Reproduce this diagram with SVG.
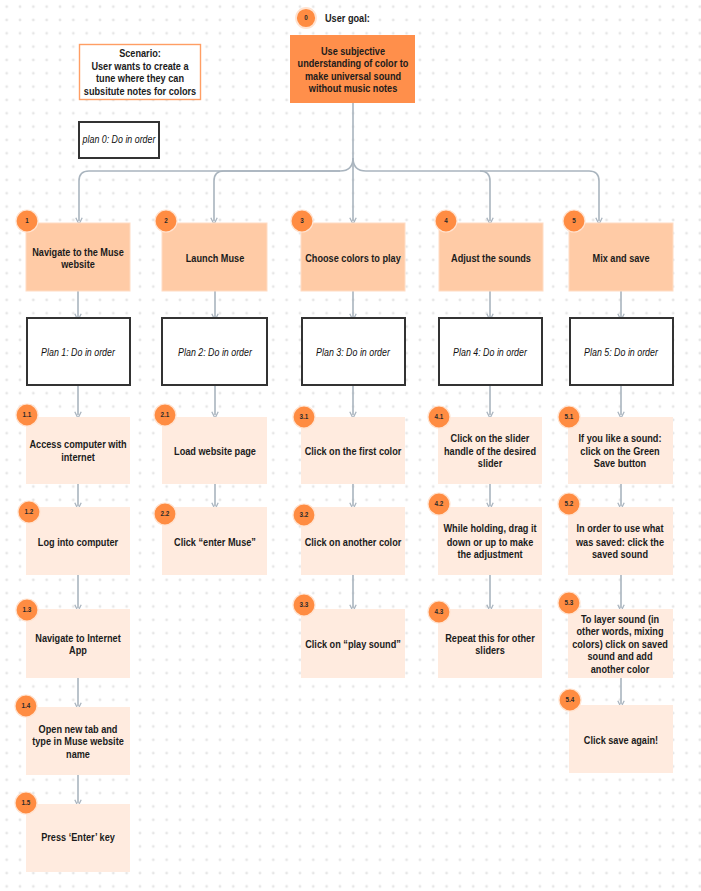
<svg xmlns="http://www.w3.org/2000/svg" width="701" height="891" viewBox="0 0 701 891">
<defs>
<pattern id="dots" x="0" y="0" width="13.33" height="13.33" patternUnits="userSpaceOnUse">
<circle cx="6.67" cy="6.67" r="1.4" fill="#e6e6e6"/>
</pattern>
<marker id="arrd" viewBox="0 0 10 10" refX="5" refY="5" markerWidth="8" markerHeight="8" markerUnits="userSpaceOnUse" orient="auto">
<path d="M1,1 L9,5 L1,9" fill="none" stroke="#a9b4be" stroke-width="1.6"/>
</marker>
</defs>
<style>
.t{font-family:"Liberation Sans",Arial,sans-serif;font-weight:bold;font-size:10.3px;fill:#1b1b1b;text-anchor:middle}
.p{font-family:"Liberation Sans",Arial,sans-serif;font-style:italic;font-size:10.3px;fill:#111111;text-anchor:middle}
.n{font-family:"Liberation Sans",Arial,sans-serif;font-weight:bold;font-size:6.3px;fill:#2a2a2a;text-anchor:middle}
.b1{fill:#ffcba6;stroke:#ffdcc4;stroke-width:1}
.b2{fill:#ffebdf}
.pl{fill:#ffffff;stroke:#333333;stroke-width:2}
.c{fill:#ff8c42;stroke:#ffe3d1;stroke-width:1.2}
.con path{fill:none;stroke:#a9b4be;stroke-width:1.6}
</style>
<rect width="701" height="891" fill="#ffffff"/>
<rect width="701" height="891" fill="url(#dots)"/>

<g id="connectors" class="con">
<path d="M353,103 V221" marker-end="url(#arrd)"/>
<path d="M353,158 Q353,171 340,171 H89 Q79,171 79,181 V221" marker-end="url(#arrd)"/>
<path d="M340,171 H224 Q214,171 214,181 V221" marker-end="url(#arrd)"/>
<path d="M353,158 Q353,171 366,171 H480 Q490,171 490,181 V221" marker-end="url(#arrd)"/>
<path d="M480,171 H589 Q599,171 599,181 V221" marker-end="url(#arrd)"/>
<path d="M78,291 V317" marker-end="url(#arrd)"/>
<path d="M215,291 V317" marker-end="url(#arrd)"/>
<path d="M353,291 V317" marker-end="url(#arrd)"/>
<path d="M490,291 V317" marker-end="url(#arrd)"/>
<path d="M621,291 V317" marker-end="url(#arrd)"/>
<path d="M78,385 V415" marker-end="url(#arrd)"/>
<path d="M215,385 V415" marker-end="url(#arrd)"/>
<path d="M353,385 V415" marker-end="url(#arrd)"/>
<path d="M490,385 V415" marker-end="url(#arrd)"/>
<path d="M621,385 V415" marker-end="url(#arrd)"/>
<path d="M78,484 V506" marker-end="url(#arrd)"/>
<path d="M215,484 V506" marker-end="url(#arrd)"/>
<path d="M353,484 V506" marker-end="url(#arrd)"/>
<path d="M490,484 V506" marker-end="url(#arrd)"/>
<path d="M621,484 V506" marker-end="url(#arrd)"/>
<path d="M78,575 V608" marker-end="url(#arrd)"/>
<path d="M353,575 V608" marker-end="url(#arrd)"/>
<path d="M490,575 V608" marker-end="url(#arrd)"/>
<path d="M621,575 V608" marker-end="url(#arrd)"/>
<path d="M78,678 V706" marker-end="url(#arrd)"/>
<path d="M621,678 V704" marker-end="url(#arrd)"/>
<path d="M78,775 V803" marker-end="url(#arrd)"/>
</g>

<g id="goal">
<circle class="c" cx="306" cy="18" r="10" style="stroke-width:1.8"/>
<text class="n" x="306" y="20.3">0</text>
<g transform="translate(325,0) scale(0.89,1)"><text class="t" y="22" style="text-anchor:start">User goal:</text></g>
<rect x="290" y="35" width="125" height="68" fill="#ff8f4b"/>
<g transform="translate(353,0) scale(0.89,1)">
<text class="t" y="55">Use subjective</text>
<text class="t" y="67">understanding of color to</text>
<text class="t" y="80">make universal sound</text>
<text class="t" y="92">without music notes</text>
</g>
</g>

<g id="scenario">
<rect x="79.5" y="44.5" width="121" height="55" fill="#ffffff" stroke="#ff9e64" stroke-width="1.4"/>
<g transform="translate(140,0) scale(0.89,1)">
<text class="t" y="57">Scenario:</text>
<text class="t" y="70">User wants to create a</text>
<text class="t" y="82">tune where they can</text>
<text class="t" y="95">subsitute notes for colors</text>
</g>
</g>

<g id="plan0">
<rect class="pl" x="79" y="122" width="80" height="36"/>
<g transform="translate(119,0) scale(0.86,1)"><text class="p" y="143">plan 0: Do in order</text></g>
</g>

<g id="n1">
<rect class="b1" x="26" y="223" width="104" height="68"/>
<circle class="c" cx="27" cy="221" r="11"/>
<text class="n" x="27" y="223.3">1</text>
<g transform="translate(78,0) scale(0.89,1)">
<text class="t" y="256">Navigate to the Muse</text>
<text class="t" y="268">website</text>
</g>
</g>
<g id="n2">
<rect class="b1" x="162" y="223" width="105" height="68"/>
<circle class="c" cx="166" cy="221" r="11"/>
<text class="n" x="166" y="223.3">2</text>
<g transform="translate(215,0) scale(0.89,1)"><text class="t" y="262">Launch Muse</text></g>
</g>
<g id="n3">
<rect class="b1" x="301" y="223" width="104" height="68"/>
<circle class="c" cx="302" cy="221" r="11"/>
<text class="n" x="302" y="223.3">3</text>
<g transform="translate(353,0) scale(0.89,1)"><text class="t" y="262">Choose colors to play</text></g>
</g>
<g id="n4">
<rect class="b1" x="439" y="223" width="104" height="68"/>
<circle class="c" cx="446" cy="221" r="11"/>
<text class="n" x="446" y="223.3">4</text>
<g transform="translate(491,0) scale(0.89,1)"><text class="t" y="262">Adjust the sounds</text></g>
</g>
<g id="n5">
<rect class="b1" x="569" y="223" width="104" height="68"/>
<circle class="c" cx="574" cy="221" r="11"/>
<text class="n" x="574" y="223.3">5</text>
<g transform="translate(621,0) scale(0.89,1)"><text class="t" y="262">Mix and save</text></g>
</g>

<g id="plan1"><rect class="pl" x="27" y="318" width="103" height="67"/><g transform="translate(78,0) scale(0.86,1)"><text class="p" y="356">Plan 1: Do in order</text></g></g>
<g id="plan2"><rect class="pl" x="162" y="318" width="105" height="67"/><g transform="translate(215,0) scale(0.86,1)"><text class="p" y="356">Plan 2: Do in order</text></g></g>
<g id="plan3"><rect class="pl" x="302" y="318" width="103" height="67"/><g transform="translate(353,0) scale(0.86,1)"><text class="p" y="356">Plan 3: Do in order</text></g></g>
<g id="plan4"><rect class="pl" x="439" y="318" width="103" height="67"/><g transform="translate(490,0) scale(0.86,1)"><text class="p" y="356">Plan 4: Do in order</text></g></g>
<g id="plan5"><rect class="pl" x="570" y="318" width="103" height="67"/><g transform="translate(621,0) scale(0.86,1)"><text class="p" y="356">Plan 5: Do in order</text></g></g>

<g id="n1_1">
<rect class="b2" x="26" y="417" width="104" height="67"/>
<circle class="c" cx="27" cy="415" r="11"/>
<text class="n" x="27" y="417.3">1.1</text>
<g transform="translate(78,0) scale(0.89,1)">
<text class="t" y="448">Access computer with</text>
<text class="t" y="461">internet</text>
</g>
</g>
<g id="n1_2">
<rect class="b2" x="26" y="507" width="104" height="68"/>
<circle class="c" cx="29" cy="512" r="11"/>
<text class="n" x="29" y="514.3">1.2</text>
<g transform="translate(78,0) scale(0.89,1)"><text class="t" y="546">Log into computer</text></g>
</g>
<g id="n1_3">
<rect class="b2" x="26" y="609" width="104" height="69"/>
<circle class="c" cx="27" cy="610" r="11"/>
<text class="n" x="27" y="612.3">1.3</text>
<g transform="translate(78,0) scale(0.89,1)">
<text class="t" y="642">Navigate to Internet</text>
<text class="t" y="654">App</text>
</g>
</g>
<g id="n1_4">
<rect class="b2" x="26" y="707" width="104" height="68"/>
<circle class="c" cx="26" cy="706" r="11"/>
<text class="n" x="26" y="708.3">1.4</text>
<g transform="translate(78,0) scale(0.89,1)">
<text class="t" y="733">Open new tab and</text>
<text class="t" y="745">type in Muse website</text>
<text class="t" y="758">name</text>
</g>
</g>
<g id="n1_5">
<rect class="b2" x="26" y="804" width="104" height="68"/>
<circle class="c" cx="26" cy="803" r="11"/>
<text class="n" x="26" y="805.3">1.5</text>
<g transform="translate(78,0) scale(0.89,1)"><text class="t" y="841">Press ‘Enter’ key</text></g>
</g>

<g id="n2_1">
<rect class="b2" x="162" y="417" width="105" height="67"/>
<circle class="c" cx="165" cy="415" r="11"/>
<text class="n" x="165" y="417.3">2.1</text>
<g transform="translate(215,0) scale(0.89,1)"><text class="t" y="455">Load website page</text></g>
</g>
<g id="n2_2">
<rect class="b2" x="162" y="507" width="105" height="68"/>
<circle class="c" cx="165" cy="514" r="11"/>
<text class="n" x="165" y="516.3">2.2</text>
<g transform="translate(215,0) scale(0.89,1)"><text class="t" y="546">Click “enter Muse”</text></g>
</g>

<g id="n3_1">
<rect class="b2" x="301" y="417" width="104" height="67"/>
<circle class="c" cx="304" cy="417" r="11"/>
<text class="n" x="304" y="419.3">3.1</text>
<g transform="translate(353,0) scale(0.89,1)"><text class="t" y="455">Click on the first color</text></g>
</g>
<g id="n3_2">
<rect class="b2" x="301" y="507" width="104" height="68"/>
<circle class="c" cx="304" cy="515" r="11"/>
<text class="n" x="304" y="517.3">3.2</text>
<g transform="translate(353,0) scale(0.89,1)"><text class="t" y="546">Click on another color</text></g>
</g>
<g id="n3_3">
<rect class="b2" x="301" y="609" width="104" height="69"/>
<circle class="c" cx="304" cy="605" r="11"/>
<text class="n" x="304" y="607.3">3.3</text>
<g transform="translate(353,0) scale(0.89,1)"><text class="t" y="648">Click on “play sound”</text></g>
</g>

<g id="n4_1">
<rect class="b2" x="438" y="417" width="104" height="67"/>
<circle class="c" cx="439" cy="417" r="11"/>
<text class="n" x="439" y="419.3">4.1</text>
<g transform="translate(490,0) scale(0.89,1)">
<text class="t" y="442">Click on the slider</text>
<text class="t" y="455">handle of the desired</text>
<text class="t" y="467">slider</text>
</g>
</g>
<g id="n4_2">
<rect class="b2" x="438" y="507" width="104" height="68"/>
<circle class="c" cx="439" cy="504" r="11"/>
<text class="n" x="439" y="506.3">4.2</text>
<g transform="translate(490,0) scale(0.89,1)">
<text class="t" y="532">While holding, drag it</text>
<text class="t" y="546">down or up to make</text>
<text class="t" y="558">the adjustment</text>
</g>
</g>
<g id="n4_3">
<rect class="b2" x="438" y="609" width="104" height="69"/>
<circle class="c" cx="439" cy="612" r="11"/>
<text class="n" x="439" y="614.3">4.3</text>
<g transform="translate(490,0) scale(0.89,1)">
<text class="t" y="642">Repeat this for other</text>
<text class="t" y="654">sliders</text>
</g>
</g>

<g id="n5_1">
<rect class="b2" x="568" y="417" width="105" height="67"/>
<circle class="c" cx="569" cy="417" r="11"/>
<text class="n" x="569" y="419.3">5.1</text>
<g transform="translate(620,0) scale(0.89,1)">
<text class="t" y="442">If you like a sound:</text>
<text class="t" y="455">click on the Green</text>
<text class="t" y="467">Save button</text>
</g>
</g>
<g id="n5_2">
<rect class="b2" x="568" y="507" width="105" height="68"/>
<circle class="c" cx="569" cy="504" r="11"/>
<text class="n" x="569" y="506.3">5.2</text>
<g transform="translate(620,0) scale(0.89,1)">
<text class="t" y="532">In order to use what</text>
<text class="t" y="546">was saved: click the</text>
<text class="t" y="558">saved sound</text>
</g>
</g>
<g id="n5_3">
<rect class="b2" x="568" y="609" width="105" height="69"/>
<circle class="c" cx="569" cy="603" r="11"/>
<text class="n" x="569" y="605.3">5.3</text>
<g transform="translate(620,0) scale(0.89,1)">
<text class="t" y="623">To layer sound (in</text>
<text class="t" y="635">other words, mixing</text>
<text class="t" y="648">colors) click on saved</text>
<text class="t" y="660">sound and add</text>
<text class="t" y="673">another color</text>
</g>
</g>
<g id="n5_4">
<rect class="b2" x="569" y="705" width="104" height="68"/>
<circle class="c" cx="570" cy="700" r="11"/>
<text class="n" x="570" y="702.3">5.4</text>
<g transform="translate(621,0) scale(0.89,1)"><text class="t" y="744">Click save again!</text></g>
</g>
</svg>
